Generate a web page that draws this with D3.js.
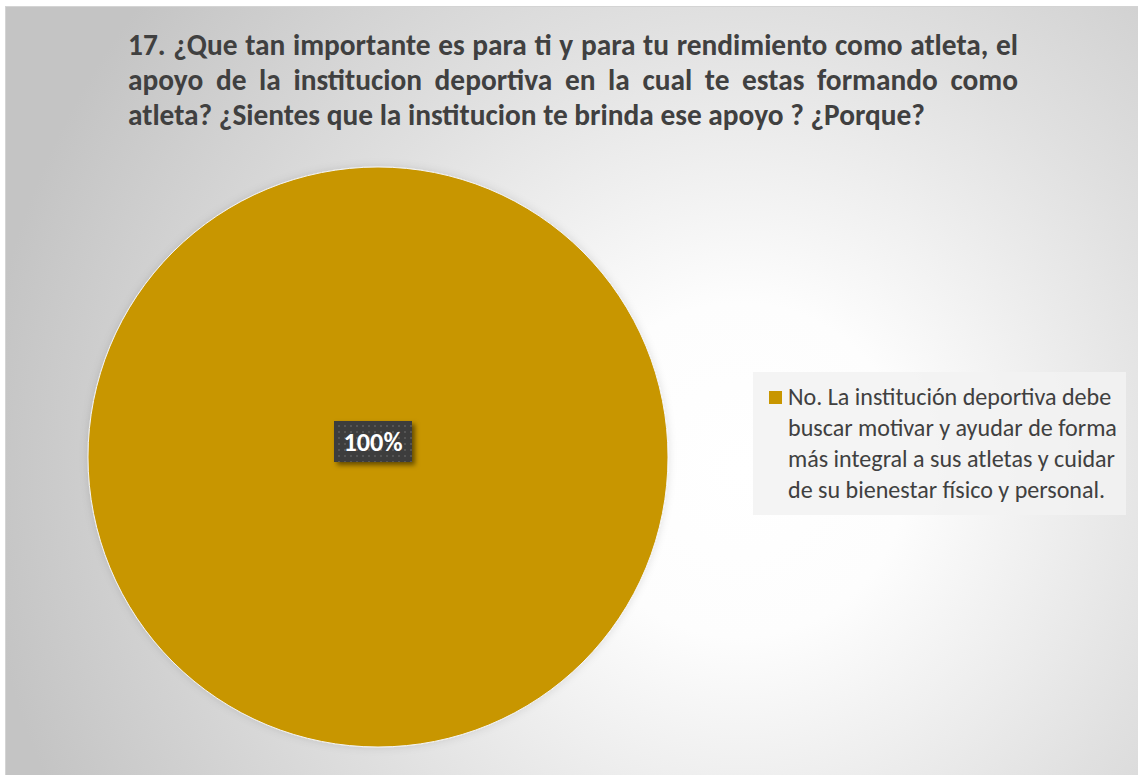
<!DOCTYPE html>
<html>
<head>
<meta charset="utf-8">
<script src="https://cdn.jsdelivr.net/npm/d3@7/dist/d3.min.js"></script>
<style>
  html, body { margin: 0; padding: 0; background: #ffffff; }
  svg { display: block; }
</style>
</head>
<body>
<svg id="chart" width="1138" height="775"></svg>
<script>
// Survey question 17 – single response category
const titleLines = [
  "17. ¿Que tan importante es para ti y para tu rendimiento como atleta, el",
  "apoyo de la institucion deportiva en la cual te estas formando como",
  "atleta? ¿Sientes que la institucion te brinda ese apoyo ? ¿Porque?"
];
const categories = [
  "No. La institución deportiva debe buscar motivar y ayudar de forma más integral a sus atletas y cuidar de su bienestar físico y personal."
];
const legendLines = [
  "No. La institución deportiva debe",
  "buscar motivar y ayudar de forma",
  "más integral a sus atletas y cuidar",
  "de su bienestar físico y personal."
];
const values = [100];
const colors = ["#C89600"];

const W = 1138, H = 775;
const svg = d3.select("#chart");
const defs = svg.append("defs");
const font = "Calibri, Carlito, Lato, sans-serif";

// width of a string at a given size/weight
function measure(str, size, weight) {
  const t = svg.append("text").attr("font-family", font).attr("font-size", size)
    .attr("font-weight", weight).attr("xml:space", "preserve").text(str);
  const w = t.node().getComputedTextLength();
  t.remove();
  return w;
}

// Chart-area background: soft radial light
const bg = defs.append("radialGradient")
  .attr("id", "bgGrad").attr("gradientUnits", "userSpaceOnUse")
  .attr("cx", 740).attr("cy", 470).attr("r", 760);
bg.append("stop").attr("offset", "0%").attr("stop-color", "#ffffff");
bg.append("stop").attr("offset", "22%").attr("stop-color", "#fdfdfd");
bg.append("stop").attr("offset", "60%").attr("stop-color", "#e0e0e0");
bg.append("stop").attr("offset", "100%").attr("stop-color", "#c4c4c4");

// Dotted fill for the data label box
const pat = defs.append("pattern").attr("id", "dots")
  .attr("patternUnits", "userSpaceOnUse").attr("width", 6).attr("height", 6);
pat.append("rect").attr("width", 6).attr("height", 6).attr("fill", "#3d3d3d");
pat.append("rect").attr("x", 1).attr("y", 1).attr("width", 2).attr("height", 2).attr("fill", "#555555");

const sh = defs.append("filter").attr("id", "lblShadow")
  .attr("x", "-20%").attr("y", "-20%").attr("width", "150%").attr("height", "170%");
sh.append("feDropShadow").attr("dx", 3).attr("dy", 3).attr("stdDeviation", 2.5)
  .attr("flood-color", "#000").attr("flood-opacity", 0.5);

const pieSh = defs.append("filter").attr("id", "pieShadow")
  .attr("x", "-10%").attr("y", "-10%").attr("width", "120%").attr("height", "120%");
pieSh.append("feDropShadow").attr("dx", 0).attr("dy", 0).attr("stdDeviation", 4)
  .attr("flood-color", "#000").attr("flood-opacity", 0.12);

// Chart area
svg.append("rect").attr("x", 5.5).attr("y", 6.5).attr("width", W).attr("height", H)
  .attr("fill", "url(#bgGrad)").attr("stroke", "#d4d4d4").attr("stroke-width", 1);

// Title – justified lines, last line left aligned
const tLeft = 128, tRight = 1018, tLastRight = 925;
const baseSize = 24;
const lastW = measure(titleLines[titleLines.length - 1], baseSize, "bold");
const titleSize = baseSize * (tLastRight - tLeft) / lastW;
const titleG = svg.append("g");
titleLines.forEach((line, i) => {
  const y = 55 + i * 35;
  const words = line.split(" ");
  const last = i === titleLines.length - 1;
  const widths = words.map(w => measure(w, titleSize, "bold"));
  const spaceW = measure("a a", titleSize, "bold") - measure("aa", titleSize, "bold");
  const gap = last ? spaceW : (tRight - tLeft - d3.sum(widths)) / (words.length - 1);
  let x = tLeft;
  const t = titleG.append("text").attr("y", y)
    .attr("font-family", font).attr("font-size", titleSize)
    .attr("font-weight", "bold").attr("fill", "#404040");
  words.forEach((w, k) => {
    t.append("tspan").attr("x", x).text(w);
    x += widths[k] + gap;
  });
});

// Pie
const cx = 378, cy = 457, R = 290;
const pie = d3.pie().sort(null).value(d => d)(values);
const arc = d3.arc().innerRadius(0).outerRadius(R);
const color = d3.scaleOrdinal().domain(categories).range(colors);
const pg = svg.append("g").attr("transform", `translate(${cx},${cy})`);
pg.selectAll("path").data(pie).enter().append("path")
  .attr("d", arc)
  .attr("fill", (d, i) => color(categories[i]))
  .attr("stroke", "#f4f4f4").attr("stroke-width", 1)
  .attr("filter", "url(#pieShadow)");

// Data label
const fmt = d3.format(".0%");
const total = d3.sum(values);
const lblSize = 22 * 59 / measure("100%", 22, "bold");
pie.forEach((d, i) => {
  const pos = values.length === 1 ? [-5, -15] : arc.centroid(d);
  const lbl = pg.append("g").attr("transform", `translate(${pos[0]},${pos[1]})`);
  lbl.append("rect").attr("x", -39).attr("y", -21).attr("width", 78).attr("height", 41)
    .attr("fill", "url(#dots)").attr("filter", "url(#lblShadow)");
  lbl.append("text").attr("text-anchor", "middle").attr("y", 9)
    .attr("font-family", font).attr("font-size", lblSize).attr("font-weight", "bold")
    .attr("fill", "#ffffff").text(fmt(d.data / total));
});

// Legend
const legSize = 20 * 329 / measure(legendLines[1], 20, "normal");
const lg = svg.append("g");
lg.append("rect").attr("x", 753).attr("y", 372).attr("width", 373).attr("height", 143)
  .attr("fill", "#f2f2f2").attr("opacity", 0.85);
lg.append("rect").attr("x", 769).attr("y", 391).attr("width", 13).attr("height", 13)
  .attr("fill", color(categories[0]));
const lt = lg.append("text").attr("font-family", font).attr("font-size", legSize)
  .attr("fill", "#404040");
legendLines.forEach((l, i) => {
  lt.append("tspan").attr("x", 788).attr("y", 405 + i * 31).text(l);
});
</script>
</body>
</html>
